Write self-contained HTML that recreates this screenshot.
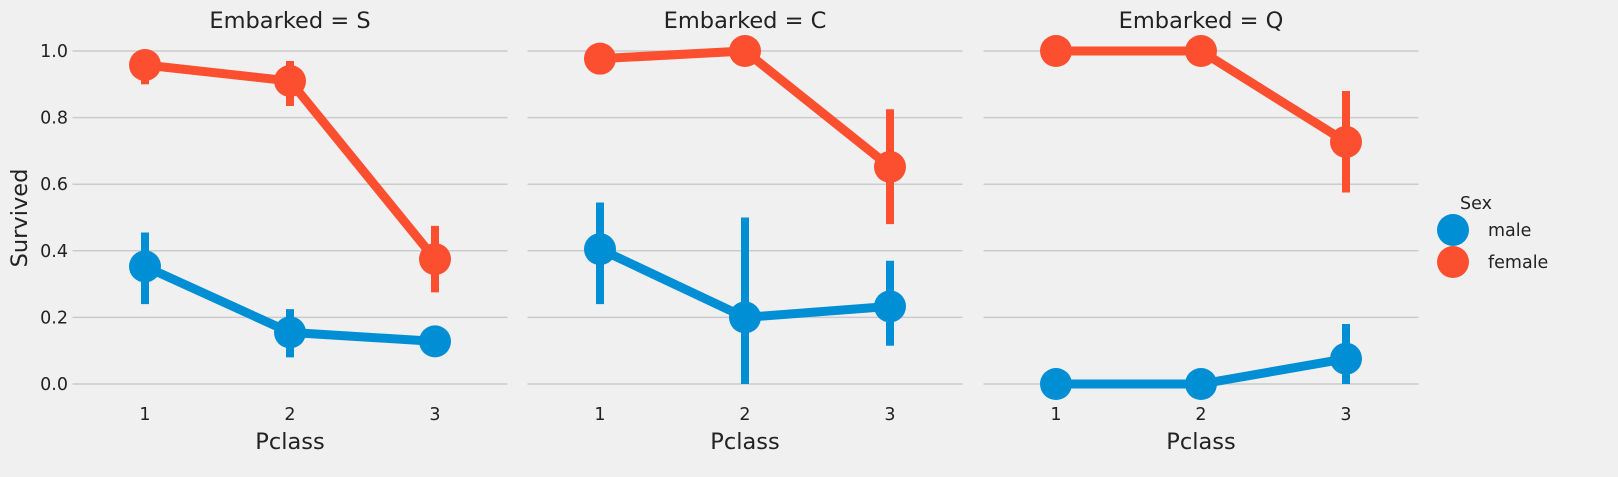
<!DOCTYPE html>
<html><head><meta charset="utf-8"><style>
html,body{margin:0;padding:0;background:#f0f0f0;}
svg{display:block;font-family:"DejaVu Sans","Liberation Sans",sans-serif;}
</style></head><body>
<svg id="chart" width="1618" height="477" viewBox="0 0 1618 477"></svg>
<script>
const panels = ["S","C","Q"];
const classes = ["1","2","3"];
const maleVals = [[0.353,0.155,0.128],[0.405,0.2,0.233],[0.0,0.0,0.076]];
const maleLo = [[0.24,0.08,0.10],[0.24,0.0,0.115],[0.0,0.0,0.0]];
const maleHi = [[0.455,0.225,0.165],[0.545,0.5,0.37],[0.0,0.0,0.18]];
const femaleVals = [[0.958,0.91,0.375],[0.977,1.0,0.652],[1.0,1.0,0.727]];
const femaleLo = [[0.9,0.835,0.275],[0.93,1.0,0.48],[1.0,1.0,0.575]];
const femaleHi = [[0.985,0.97,0.475],[1.0,1.0,0.825],[1.0,1.0,0.88]];
const yTicks = [0,0.2,0.4,0.6,0.8,1.0];
const yTickLabels = ["0.0","0.2","0.4","0.6","0.8","1.0"];

const NS="http://www.w3.org/2000/svg";
const svg=document.getElementById('chart');
function mk(tag,attrs,parent){const e=document.createElementNS(NS,tag);for(const k in attrs)e.setAttribute(k,attrs[k]);(parent||svg).appendChild(e);return e;}
const panelLeft=[72.5,527.5,983.5], panelW=435;
function xScale(p,i){return panelLeft[p]+panelW*(i+0.5)/3;}
function yScale(v){return 384-333*v;}
const MALE="#008fd5", FEMALE="#fc4f30";

panels.forEach((name,p)=>{
  const g=mk('g',{});
  
  
  yTicks.forEach((t,i)=>{
    const l=mk('line',{x1:panelLeft[p],x2:panelLeft[p]+panelW,y1:yScale(t),y2:yScale(t),stroke:"#cbcbcb","stroke-width":1.5},g);
    
    
    if(p===0){
      const tx=mk('text',{x:68,y:yScale(t)+6,"text-anchor":"end","font-size":17.5,fill:"#222"},g);
      tx.textContent=yTickLabels[i];
      
      
    }
  });
  classes.forEach((c,i)=>{
    const tx=mk('text',{x:xScale(p,i),y:420,"text-anchor":"middle","font-size":17.5,fill:"#222"},g);
    tx.textContent=c;
    
    
  });
  const title=mk('text',{x:panelLeft[p]+panelW/2,y:28,"text-anchor":"middle","font-size":22.5,fill:"#222"},g);
  title.textContent="Embarked = "+name;
  
  
  const xl=mk('text',{x:panelLeft[p]+panelW/2,y:449,"text-anchor":"middle","font-size":22.5,fill:"#222"},g);
  xl.textContent="Pclass";
  
  
  [[maleVals,maleLo,maleHi,MALE,'male'],[femaleVals,femaleLo,femaleHi,FEMALE,'female']].forEach(([vals,lo,hi,col,nm])=>{
    const pts=vals[p].map((v,i)=>xScale(p,i)+","+yScale(v)).join(" ");
    const pl=mk('polyline',{points:pts,fill:"none",stroke:col,"stroke-width":9},g);
    
    
    vals[p].forEach((v,i)=>{
      const e=mk('line',{x1:xScale(p,i),x2:xScale(p,i),y1:yScale(lo[p][i]),y2:yScale(hi[p][i]),stroke:col,"stroke-width":8},g);
      
      
      const m=mk('circle',{cx:xScale(p,i),cy:yScale(v),r:16,fill:col},g);
      
      
    });
  });
});
const yl=mk('text',{x:27,y:218,"text-anchor":"middle","font-size":22.5,fill:"#222",transform:"rotate(-90 27 218)"});
yl.textContent="Survived";


const lg=mk('g',{});


const lt=mk('text',{x:1476,y:209,"text-anchor":"middle","font-size":17.5,fill:"#222"},lg);
lt.textContent="Sex";


[["male",MALE,230],["female",FEMALE,262]].forEach(([n,c,y])=>{
  const ci=mk('circle',{cx:1453,cy:y,r:16,fill:c},lg);
  
  
  const t=mk('text',{x:1488,y:y+6,"font-size":17.5,fill:"#222"},lg);
  t.textContent=n;
  
  
});
</script>
</body></html>
